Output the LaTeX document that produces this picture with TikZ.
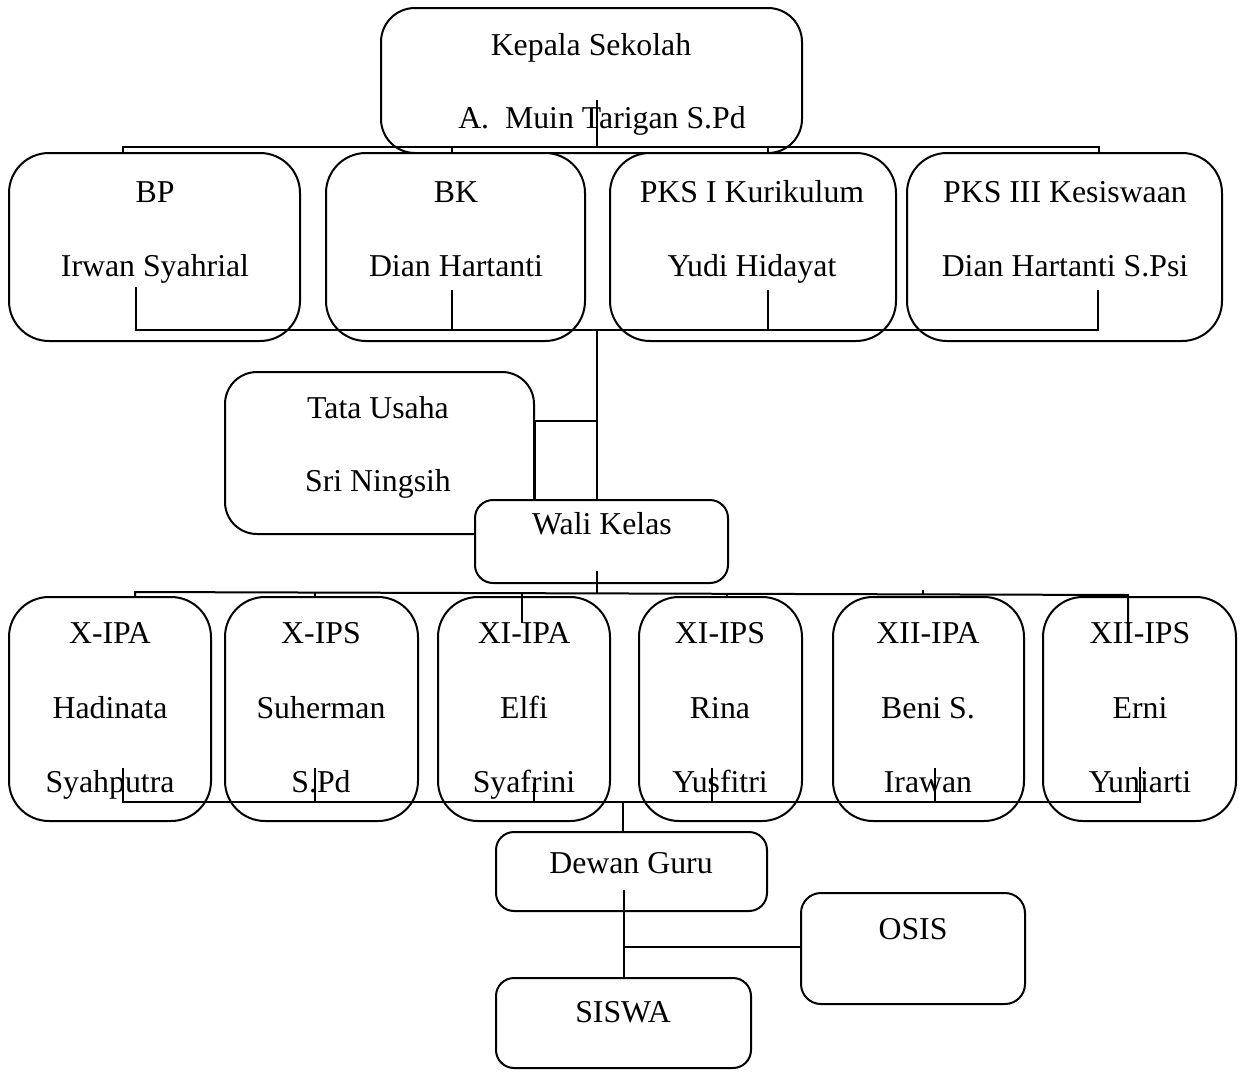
\documentclass[tikz,border=0pt]{standalone}
\usepackage{fontspec}
\setmainfont{Liberation Serif}
\usetikzlibrary{fit}
\begin{document}
\begin{tikzpicture}[x=0.5pt,y=-0.5pt,
  box/.style={draw, line width=1pt, rounded corners=#1, inner sep=0pt, fill=white},
  box/.default=20pt,
  conn/.style={line width=1pt},
  txt/.style={anchor=base, inner sep=0pt, font=\fontsize{15.9}{19}\selectfont}]
\useasboundingbox (0,0) rectangle (1244,1072);

% ---- Kepala Sekolah
\node[box=17pt, fit={(381,8)(802,153)}] (kep) {};
\node[txt] (kepT1) at (591,55.5) {Kepala Sekolah};
\node[txt] (kepT2) at (602,128.5) {A.\ \ Muin Tarigan S.Pd};

% ---- row 2
\node[box, fit={(9,153)(300,341)}] (bp) {};
\node[box, fit={(326,153)(585,341)}] (bk) {};
\node[box, fit={(610,153)(896,341)}] (pks1) {};
\node[box, fit={(907,153)(1222,341)}] (pks3) {};
\node[txt] (bpT1) at (155,202.5) {BP};
\node[txt] (bpT2) at (155,276.5) {Irwan Syahrial};
\node[txt] (bkT1) at (456,202.5) {BK};
\node[txt] (bkT2) at (456,276.5) {Dian Hartanti};
\node[txt] (p1T1) at (752,202.5) {PKS I Kurikulum};
\node[txt] (p1T2) at (752,276.5) {Yudi Hidayat};
\node[txt] (p3T1) at (1065,202.5) {PKS III Kesiswaan};
\node[txt] (p3T2) at (1065,276.5) {Dian Hartanti S.Psi};

% ---- Tata Usaha and Wali Kelas
\node[box=16pt, fit={(225,372)(534,534)}] (tata) {};
\node[txt] (tataT1) at (378,418.5) {Tata Usaha};
\node[txt] (tataT2) at (378,491.5) {Sri Ningsih};
\node[box=9pt, fit={(475,500)(728,583)}] (wali) {};
\node[txt] (waliT) at (602,534.5) {Wali Kelas};

% ---- row 3
\node[box, fit={(9,597)(211,821)}] (c1) {};
\node[box, fit={(225,597)(418,821)}] (c2) {};
\node[box, fit={(438,597)(610,821)}] (c3) {};
\node[box, fit={(639,597)(802,821)}] (c4) {};
\node[box, fit={(833,597)(1024,821)}] (c5) {};
\node[box, fit={(1043,597)(1236,821)}] (c6) {};
\node[txt] (c1a) at (110,643.5) {X-IPA};
\node[txt] (c1b) at (110,718.5) {Hadinata};
\node[txt] (c1c) at (110,792.5) {Syahputra};
\node[txt] (c2a) at (321,643.5) {X-IPS};
\node[txt] (c2b) at (321,718.5) {Suherman};
\node[txt] (c2c) at (321,792.5) {S.Pd};
\node[txt] (c3a) at (524,643.5) {XI-IPA};
\node[txt] (c3b) at (524,718.5) {Elfi};
\node[txt] (c3c) at (524,792.5) {Syafrini};
\node[txt] (c4a) at (720,643.5) {XI-IPS};
\node[txt] (c4b) at (720,718.5) {Rina};
\node[txt] (c4c) at (720,792.5) {Yusfitri};
\node[txt] (c5a) at (928,643.5) {XII-IPA};
\node[txt] (c5b) at (928,718.5) {Beni S.};
\node[txt] (c5c) at (928,792.5) {Irawan};
\node[txt] (c6a) at (1140,643.5) {XII-IPS};
\node[txt] (c6b) at (1140,718.5) {Erni};
\node[txt] (c6c) at (1140,792.5) {Yuniarti};

% ---- bottom
\node[box=9pt, fit={(496,832)(767,911)}] (dewan) {};
\node[txt] (dewanT) at (631,873) {Dewan Guru};
\node[box=10pt, fit={(801,893)(1025,1004)}] (osis) {};
\node[txt] (osisT) at (913,939) {OSIS};
\node[box=9pt, fit={(496,978)(751,1068)}] (siswa) {};
\node[txt] (siswaT) at (623,1022) {SISWA};

% ---- connectors: Kepala to row 2
\coordinate (k1) at (597,100);
\coordinate (k2) at (597,147);
\coordinate (tL) at (123,147);
\coordinate (tB) at (452,147);
\coordinate (tC) at (768,147);
\coordinate (tR) at (1099,147);
\draw[conn] (k1) -- (k2);
\draw[conn] (tL |- bp.north) -- (tL) -- (tR) -- (tR |- pks3.north);
\draw[conn] (tB) -- (tB |- bk.north);
\draw[conn] (tC) -- (tC |- pks1.north);

% ---- row 2 lower bus
\coordinate (mL) at (136,330);
\coordinate (mR) at (1098,330);
\coordinate (mC) at (597,330);
\coordinate (a1) at (136,287);
\coordinate (a2) at (452,290);
\coordinate (a3) at (768,290);
\coordinate (a4) at (1098,290);
\draw[conn] (a1) -- (mL) -- (mR) -- (a4);
\draw[conn] (a2) -- (a2 |- mL);
\draw[conn] (a3) -- (a3 |- mL);
\draw[conn] (mC) -- (mC |- wali.north);
\coordinate (tt) at (597,421);
\draw[conn] (tt) -- (tt -| tata.east);
\draw[conn] (tata.east |- tt) -- (tata.east |- wali.north);

% ---- Wali to row 3
\coordinate (w1) at (597,571);
\coordinate (w2) at (597,593);
\coordinate (bL) at (135,592);
\coordinate (bR) at (1128,595);
\draw[conn] (w1) -- (w2);
\draw[conn] (bL |- c1.north) -- (bL) -- (bR) -- (1128,623);
\draw[conn] (315,592.5) -- (315,597);
\coordinate (x3) at (522,593);
\draw[conn] (x3) -- (522,623);
\draw[conn] (727,594) -- (727,597);
\draw[conn] (923,590) -- (923,595);

% ---- row 3 to Dewan Guru
\coordinate (dL) at (123,802);
\coordinate (dR) at (1140,802);
\coordinate (dC) at (623,802);
\draw[conn] (123,768) -- (dL) -- (dR) -- (1140,767);
\draw[conn] (315,768) -- (315,802);
\draw[conn] (534,783) -- (534,802);
\draw[conn] (712,768) -- (712,802);
\draw[conn] (935,768) -- (935,802);
\draw[conn] (dC) -- (dC |- dewan.north);

% ---- Dewan Guru to SISWA and OSIS
\coordinate (g1) at (624,890);
\coordinate (g2) at (624,947);
\draw[conn] (g1) -- (g1 |- siswa.north);
\draw[conn] (g2) -- (g2 -| osis.west);
\end{tikzpicture}
\end{document}
